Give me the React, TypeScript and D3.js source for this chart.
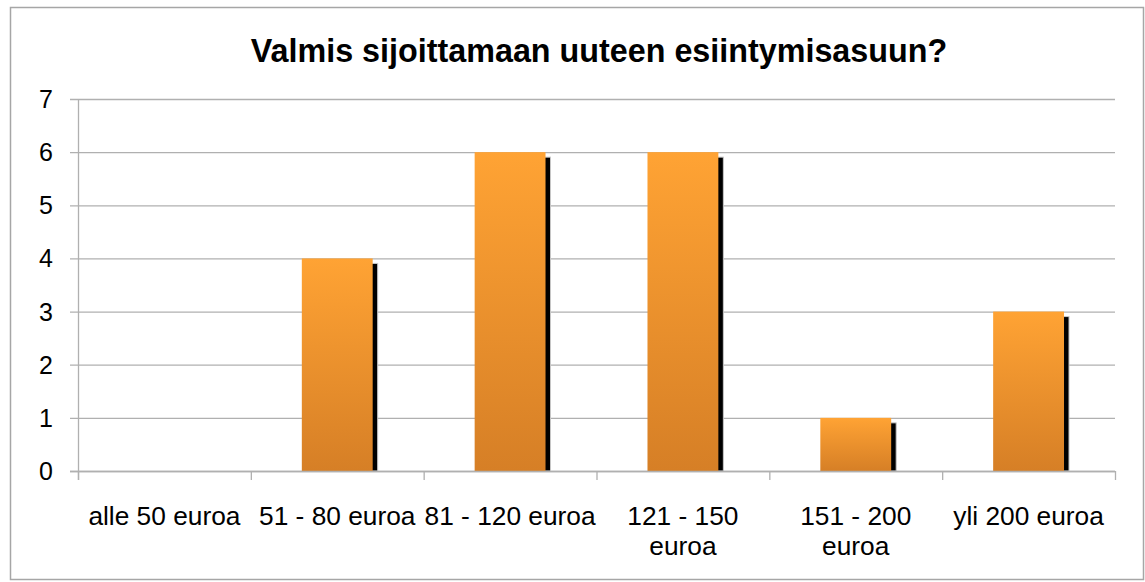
import { useEffect, useRef } from "react";
import * as d3 from "d3";

const categories = [
  ["alle 50 euroa"],
  ["51 - 80 euroa"],
  ["81 - 120 euroa"],
  ["121 - 150", "euroa"],
  ["151 - 200", "euroa"],
  ["yli 200 euroa"],
];
const values = [0, 4, 6, 6, 1, 3];
const yTicks = [0, 1, 2, 3, 4, 5, 6, 7];
const title = "Valmis sijoittamaan uuteen esiintymisasuun?";

const W = 1145;
const H = 582;
const left = 78;
const right = 1115;
const top = 99;
const bottom = 471;
const font = "'Liberation Sans', Arial, sans-serif";

export default function App() {
  const ref = useRef<SVGSVGElement>(null);

  useEffect(() => {
    const svg = d3.select(ref.current);
    svg.selectAll("*").remove();

    const keys = categories.map((c) => c.join(" "));
    const x = d3.scaleBand().domain(keys).range([left, right]).paddingInner(0.59).paddingOuter(0.295);
    const y = d3.scaleLinear().domain([0, 7]).range([bottom, top]);
    const step = x.step();

    const defs = svg.append("defs");
    const grad = defs.append("linearGradient")
      .attr("id", "barGrad")
      .attr("x1", 0).attr("y1", 0).attr("x2", 0).attr("y2", 1);
    grad.append("stop").attr("offset", "0%").attr("stop-color", "#ffa334");
    grad.append("stop").attr("offset", "100%").attr("stop-color", "#d67f26");

    // outer border
    svg.append("rect")
      .attr("x", 10.5).attr("y", 7.5)
      .attr("width", 1133).attr("height", 572)
      .attr("fill", "#fff").attr("stroke", "#a6a6a6").attr("stroke-width", 1.5);

    svg.append("text")
      .attr("x", 599).attr("y", 62)
      .attr("text-anchor", "middle")
      .attr("font-family", font).attr("font-weight", "bold").attr("font-size", 32.3)
      .text(title);

    // gridlines
    svg.append("g").selectAll("line").data(yTicks).join("line")
      .attr("x1", left - 8).attr("x2", right)
      .attr("y1", (d) => y(d) + 0.5).attr("y2", (d) => y(d) + 0.5)
      .attr("stroke", "#b0b0b0").attr("stroke-width", 1.3);

    // y axis line
    svg.append("line")
      .attr("x1", left + 0.5).attr("x2", left + 0.5)
      .attr("y1", top).attr("y2", bottom + 9)
      .attr("stroke", "#b0b0b0").attr("stroke-width", 1.3);

    // x ticks at category boundaries
    svg.append("g").selectAll("line").data(d3.range(categories.length + 1)).join("line")
      .attr("x1", (i) => left + i * step + 0.5).attr("x2", (i) => left + i * step + 0.5)
      .attr("y1", bottom).attr("y2", bottom + 9)
      .attr("stroke", "#b0b0b0").attr("stroke-width", 1.3);

    // y labels
    svg.append("g").selectAll("text").data(yTicks).join("text")
      .attr("x", 53).attr("y", (d) => y(d))
      .attr("dy", "0.36em")
      .attr("text-anchor", "end")
      .attr("font-family", font).attr("font-size", 25)
      .text((d) => d);

    // bars with shadows
    const bars = svg.append("g").selectAll("g").data(values.map((v, i) => ({ v, k: keys[i] })).filter((d) => d.v > 0)).join("g");
    bars.append("rect")
      .attr("x", (d) => x(d.k)! + 5).attr("y", (d) => y(d.v) + 5)
      .attr("width", x.bandwidth()).attr("height", (d) => bottom - y(d.v) - 5)
      .attr("fill", "#000").attr("stroke", "#c8c8c8").attr("stroke-width", 1);
    bars.append("rect")
      .attr("x", (d) => x(d.k)!).attr("y", (d) => y(d.v))
      .attr("width", x.bandwidth()).attr("height", (d) => bottom - y(d.v))
      .attr("fill", "url(#barGrad)");

    // baseline redraw over bars
    svg.append("line")
      .attr("x1", left - 8).attr("x2", right)
      .attr("y1", bottom + 0.5).attr("y2", bottom + 0.5)
      .attr("stroke", "#b0b0b0").attr("stroke-width", 1.3);

    // x labels
    const lab = svg.append("g").selectAll("text").data(categories).join("text")
      .attr("x", (d, i) => left + (i + 0.5) * step)
      .attr("y", 525)
      .attr("text-anchor", "middle")
      .attr("font-family", font).attr("font-size", 26.3);
    lab.selectAll("tspan").data((d) => d).join("tspan")
      .attr("x", function () { return (this.parentNode as SVGTextElement).getAttribute("x"); })
      .attr("dy", (d, i) => (i === 0 ? 0 : 30))
      .text((d) => d);
  }, []);

  return (
    <div style={{ position: "absolute", left: 0, top: 0 }}>
      <svg ref={ref} width={W} height={H} style={{ display: "block" }} />
    </div>
  );
}
